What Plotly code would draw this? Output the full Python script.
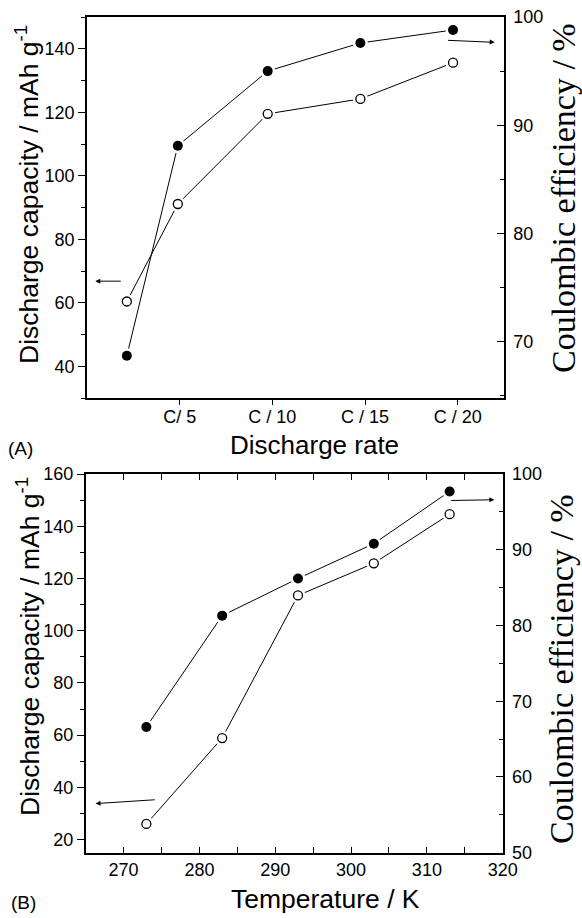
import plotly.graph_objects as go

# ---------------- data ----------------
# Panel A: discharge rate
rate_pos = [0.43, 0.98, 1.95, 2.95, 3.95]
rate_tickvals = [1, 2, 3, 4]
rate_ticktext = ["C/ 5", "C / 10", "C / 15", "C / 20"]
capacity_A = [60.4, 91.1, 119.5, 124.2, 135.6]      # open circles, left axis
efficiency_A = [68.7, 88.1, 95.0, 97.6, 98.8]       # filled circles, right axis

# Panel B: temperature
temperature = [273, 283, 293, 303, 313]
capacity_B = [26.0, 58.9, 113.5, 125.8, 144.6]      # open circles, left axis
efficiency_B = [66.6, 81.3, 86.2, 90.8, 97.7]       # filled circles, right axis

W, H = 582, 918
SANS = "Liberation Sans, Arial, sans-serif"
SERIF = "Liberation Serif, Times New Roman, serif"

def px(x):
    return x / W

def py(y):
    return 1 - y / H

fig = go.Figure()

series = [
    ("x", "y", rate_pos, capacity_A, "open"),
    ("x", "y2", rate_pos, efficiency_A, "filled"),
    ("x2", "y3", temperature, capacity_B, "open"),
    ("x2", "y4", temperature, efficiency_B, "filled"),
]

# lines first
for xa, ya, xs, ys, kind in series:
    fig.add_trace(go.Scatter(x=xs, y=ys, xaxis=xa, yaxis=ya, mode="lines",
                             line=dict(color="black", width=1), showlegend=False,
                             hoverinfo="skip"))
# white halos to give the gap between line and marker
for xa, ya, xs, ys, kind in series:
    fig.add_trace(go.Scatter(x=xs, y=ys, xaxis=xa, yaxis=ya, mode="markers",
                             marker=dict(color="white", size=15, line=dict(width=0)),
                             showlegend=False, hoverinfo="skip"))
# markers
for xa, ya, xs, ys, kind in series:
    if kind == "filled":
        mk = dict(symbol="circle", color="black", size=10, line=dict(color="black", width=0))
    else:
        mk = dict(symbol="circle", color="white", size=9, line=dict(color="black", width=1.3))
    fig.add_trace(go.Scatter(x=xs, y=ys, xaxis=xa, yaxis=ya, mode="markers",
                             marker=mk, showlegend=False))

tickfont = dict(family=SANS, size=18, color="black")
common = dict(showgrid=False, zeroline=False, showline=True, linecolor="black",
              linewidth=1.5, tickcolor="black", tickwidth=1.2, tickfont=tickfont,
              automargin=False)

fig.update_layout(
    template="none",
    width=W, height=H, autosize=False,
    margin=dict(l=0, r=0, t=0, b=0, pad=0),
    paper_bgcolor="white", plot_bgcolor="white",
    showlegend=False,
    xaxis=dict(domain=[px(87), px(504)], anchor="y", range=[0, 4.5],
               tickmode="array", tickvals=rate_tickvals, ticktext=rate_ticktext,
               ticks="outside", ticklen=5, mirror=True, ticklabelstandoff=-3, **common),
    yaxis=dict(domain=[py(398), py(17)], anchor="x", range=[30, 150],
               tickmode="linear", tick0=40, dtick=20, ticks="outside", ticklen=7,
               minor=dict(ticks="outside", dtick=10, tick0=30, ticklen=4, tickcolor="black"),
               **common),
    yaxis2=dict(domain=[py(398), py(17)], anchor="x", overlaying="y", side="right",
                range=[64.8, 100], tickmode="linear", tick0=70, dtick=10,
                ticks="inside", ticklen=7, ticklabelstandoff=4,
                minor=dict(ticks="inside", dtick=5, tick0=65, ticklen=4, tickcolor="black"),
                **common),
    xaxis2=dict(domain=[px(85.7), px(502.7)], anchor="y3", range=[265, 320],
                tickmode="linear", tick0=270, dtick=10, ticks="inside", ticklen=6,
                mirror="allticks",
                minor=dict(ticks="inside", dtick=5, tick0=265, ticklen=4, tickcolor="black"),
                **common),
    yaxis3=dict(domain=[py(852.7), py(474)], anchor="x2", range=[15, 160],
                tickmode="linear", tick0=20, dtick=20, ticks="outside", ticklen=7,
                minor=dict(ticks="outside", dtick=10, tick0=10, ticklen=4, tickcolor="black"),
                **common),
    yaxis4=dict(domain=[py(852.7), py(474)], anchor="x2", overlaying="y3", side="right",
                range=[50, 100], tickmode="linear", tick0=60, dtick=10,
                ticks="inside", ticklen=7, ticklabelstandoff=4,
                minor=dict(ticks="inside", dtick=5, tick0=50, ticklen=4, tickcolor="black"),
                **common),
)

ann = []
def text_ann(x, y, text, size, family=SANS, angle=0):
    ann.append(dict(x=px(x), y=py(y), xref="paper", yref="paper", text=text,
                    showarrow=False, textangle=angle, xanchor="center", yanchor="middle",
                    font=dict(family=family, size=size, color="black")))

text_ann(27, 195, "Discharge capacity / mAh g<sup>-1</sup>", 26.5, angle=-90)
text_ann(563, 198, "Coulombic efficiency / %", 34, family=SERIF, angle=-90)
text_ann(314, 445, "Discharge rate", 26)
text_ann(21, 449, "(A)", 19)

text_ann(28, 647, "Discharge capacity / mAh g<sup>-1</sup>", 26.5, angle=-90)
text_ann(561, 669, "Coulombic efficiency / %", 34, family=SERIF, angle=-90)
text_ann(325, 899, "Temperature / K", 26.5)
text_ann(23, 902, "(B)", 19)

def arrow(xr, yr, tail, head):
    ann.append(dict(x=head[0], y=head[1], ax=tail[0], ay=tail[1], xref=xr, yref=yr,
                    axref=xr, ayref=yr, showarrow=True, arrowhead=2, arrowsize=1,
                    arrowwidth=1, arrowcolor="black", text=""))

arrow("x", "y", (0.38, 66.8), (0.09, 66.8))
arrow("x", "y2", (3.88, 97.85), (4.40, 97.66))
arrow("x2", "y3", (274.3, 35.3), (266.3, 33.8))
arrow("x2", "y4", (313.0, 96.5), (318.9, 96.6))

fig.update_layout(annotations=ann)

fig.write_html(
    "out.html",
    config={"responsive": False},
    post_script="document.body.style.margin='0';document.body.style.overflow='hidden';",
)
